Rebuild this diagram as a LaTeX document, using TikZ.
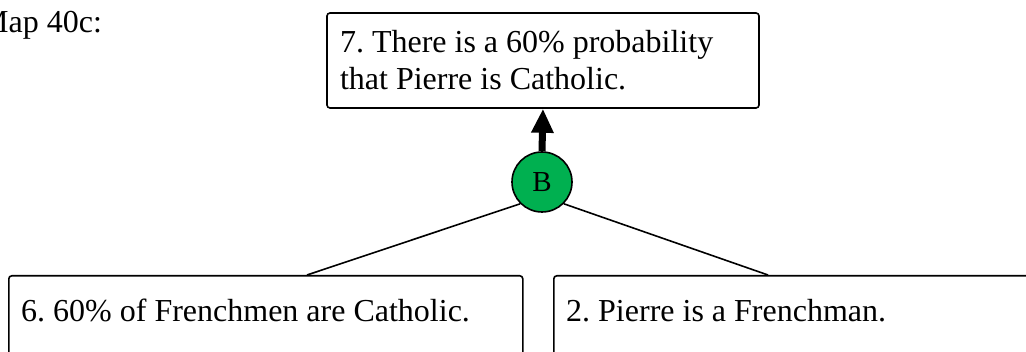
\documentclass[tikz,border=0pt]{standalone}
\usepackage{fontspec}
\setmainfont{Liberation Serif}
\usetikzlibrary{arrows.meta}
\definecolor{bgreen}{HTML}{00B050}
\tikzset{
  boxshape/.style={draw=black, line width=1.6pt, rounded corners=3pt, rectangle, inner sep=0pt},
  boxtext/.style={font=\fontsize{32}{37}\selectfont, inner sep=0pt, anchor=base west},
  connector/.style={draw=black, line width=1.6pt},
  support/.style={draw=black, line width=7pt, -{Triangle[width=21pt,length=24pt]}},
  basis/.style={circle, draw=black, line width=1.6pt, fill=bgreen, minimum size=60pt, inner sep=0pt, font=\fontsize{29}{32}\selectfont}
}
\frenchspacing
\begin{document}
\begin{tikzpicture}[x=1pt,y=-1pt]
\useasboundingbox (0,0) rectangle (1026,352);
\clip (0,0) rectangle (1026,352);
\fill[white] (0,0) rectangle (1026,352);
% title
\node[boxtext] (title) at (-20,33) {Map 40c:};
% top claim
\node[boxshape, minimum width=432pt, minimum height=95pt, text width=406pt, inner xsep=13pt, align=flush left,
      font=\fontsize{32}{37}\selectfont] (c7) at (543,60.5)
  {7. There is a 60\% probability\\that Pierre is Catholic.};
% basis circle
\node[basis] (B) at (542,182) {B};
% bottom boxes
\node[boxshape, anchor=north west, minimum width=514pt, minimum height=120pt] (c6) at (8,275) {};
\node[boxtext] (t6) at (21,322) {6. 60\% of Frenchmen are Catholic.};
\node[boxshape, anchor=north west, minimum width=560pt, minimum height=120pt] (c2) at (553,275) {};
\node[boxtext] (t2) at (566,322) {2. Pierre is a Frenchman.};
% connectors
\coordinate (a6) at (307,275);
\coordinate (a2) at (768,275);
\draw[connector] (B.225) -- (a6);
\draw[connector] (B.-45) -- (a2);
\draw[support] (B.north) -- (c7.south);
\end{tikzpicture}
\end{document}
